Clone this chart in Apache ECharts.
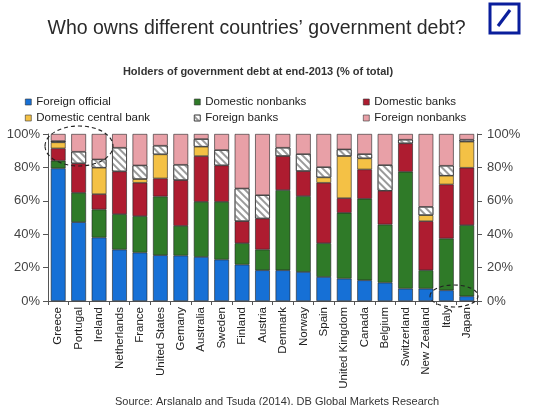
<!DOCTYPE html>
<html><head><meta charset="utf-8">
<script src="https://cdn.jsdelivr.net/npm/echarts@6/dist/echarts.min.js"></script>
<style>html,body{margin:0;padding:0;background:#fff}#c{width:540px;height:405px}</style>
</head><body><div id="c"></div>
<script>
const countries = ['Greece','Portugal','Ireland','Netherlands','France','United States','Gemany','Australia','Sweden','Finland','Austria','Denmark','Norway','Spain','United Kingdom','Canada','Belgium','Switzerland','New Zealand','Italy','Japan'];
const foreignOfficial     = [79.4,47.2,38.0,30.8,29.0,27.4,27.2,26.4,24.8,21.8,18.4,18.4,17.4,14.4,13.4,12.4,11.0,7.4,7.4,6.4,2.8];
const domesticNonbanks    = [4.6,17.6,16.8,21.2,21.8,35.2,17.8,33.0,34.6,12.8,12.4,48.0,45.4,20.2,39.4,48.8,34.8,70.0,11.0,31.0,42.6];
const domesticBanks       = [7.4,17.6,9.2,25.6,20.0,10.8,27.4,27.4,21.8,13.2,18.6,20.4,15.0,36.2,8.8,17.6,20.2,17.0,29.4,32.4,34.4];
const domesticCentralBank = [3.6,0,15.8,0,2.2,14.4,0,5.6,0,0,0,0,0,3.2,25.2,6.6,0,0,3.6,5.2,15.6];
const foreignBanks        = [0.8,7.0,5.0,14.2,8.2,5.2,9.2,4.6,9.2,19.6,14.0,5.0,10.2,6.2,4.0,2.6,15.4,2.2,5.0,6.0,1.2];
const foreignNonbanks     = [4.2,10.6,15.2,8.2,18.8,7.0,18.4,3.0,9.6,32.6,36.6,8.2,12.0,19.8,9.2,12.0,18.6,3.4,43.6,19.0,3.4];
const yTicks = [0,20,40,60,80,100];

const seriesDefs = [
  {name:'Foreign official', data:foreignOfficial, color:'#1670d6'},
  {name:'Domestic nonbanks', data:domesticNonbanks, color:'#2f7a28'},
  {name:'Domestic banks', data:domesticBanks, color:'#ae1c30'},
  {name:'Domestic central bank', data:domesticCentralBank, color:'#f4c145'},
  {name:'Foreign banks', data:foreignBanks, color:'#ffffff', hatch:true},
  {name:'Foreign nonbanks', data:foreignNonbanks, color:'#e8a0a7'}
];

const chart = echarts.init(document.getElementById('c'), null, {renderer:'canvas'});
const FONT = 'Liberation Sans, Arial, sans-serif';
const series = seriesDefs.map(s => {
  const st = {color:s.color, borderColor:'#222', borderWidth:0.6};
  if (s.hatch) st.decal = {symbol:'rect', symbolSize:1, dashArrayX:[1,0], dashArrayY:[1.5,2.5], rotation:Math.PI/4, color:'#9a9a9a'};
  return {
    name:s.name, type:'bar', stack:'total', barWidth:'72%',
    data:s.data.map(v => v === 0 ? '-' : v),
    itemStyle:st, emphasis:{disabled:true}
  };
});
const legendBase = {orient:'vertical', icon:'rect', itemWidth:6, itemHeight:6, itemGap:4,
  textStyle:{fontFamily:FONT, fontSize:11.5, color:'#222'}, selectedMode:false,
  itemStyle:{borderColor:'#333', borderWidth:0.6}};
const yAxisBase = {type:'value', min:0, max:100, interval:20,
  axisLine:{show:true, lineStyle:{color:'#555', width:1}},
  axisTick:{show:true, length:5, lineStyle:{color:'#555'}},
  splitLine:{show:false},
  axisLabel:{formatter:'{value}%', fontFamily:FONT, fontSize:13, color:'#444'}};

chart.setOption({
  animation:false,
  aria:{enabled:false},
  title:[
    {text:'Who owns different countries’ government debt?', left:251.5, top:14, textAlign:'center',
      textStyle:{fontFamily:FONT, fontSize:19.5, fontWeight:'normal', color:'#2a2a2a'}},
    {text:'Holders of government debt at end-2013 (% of total)', left:253, top:61, textAlign:'center',
      textStyle:{fontFamily:FONT, fontSize:11, fontWeight:'bold', color:'#333'}},
    {text:'Source: Arslanalp and Tsuda (2014), DB Global Markets Research', left:272, top:391, textAlign:'center',
      textStyle:{fontFamily:FONT, fontSize:11, fontWeight:'normal', color:'#333'}}
  ],
  legend:[
    Object.assign({}, legendBase, {left:20, top:91, data:['Foreign official','Domestic central bank']}),
    Object.assign({}, legendBase, {left:189, top:91, data:['Domestic nonbanks','Foreign banks']}),
    Object.assign({}, legendBase, {left:358, top:91, data:['Domestic banks','Foreign nonbanks']})
  ],
  grid:{left:48, right:63, top:134, bottom:104, containLabel:false},
  xAxis:{type:'category', data:countries,
    axisLine:{lineStyle:{color:'#555'}},
    axisTick:{show:true, length:4, alignWithLabel:false, lineStyle:{color:'#555'}},
    axisLabel:{rotate:90, interval:0, fontFamily:FONT, fontSize:11.5, color:'#222', margin:6}},
  yAxis:[
    Object.assign({}, yAxisBase, {position:'left', axisLabel:Object.assign({}, yAxisBase.axisLabel, {margin:8})}),
    Object.assign({}, yAxisBase, {position:'right', axisLabel:Object.assign({}, yAxisBase.axisLabel, {margin:10})})
  ],
  series:series,
  graphic:[
    {type:'ellipse', shape:{cx:79, cy:146, rx:34, ry:20}, silent:true, z:100,
      style:{fill:'none', stroke:'#222', lineWidth:1.1, lineDash:[4,3]}},
    {type:'ellipse', shape:{cx:454, cy:296, rx:24, ry:11}, silent:true, z:100,
      style:{fill:'none', stroke:'#222', lineWidth:1.1, lineDash:[4,3]}},
    {type:'rect', shape:{x:490, y:4, width:29, height:29}, silent:true,
      style:{fill:'none', stroke:'#0a1e9c', lineWidth:3}},
    {type:'line', shape:{x1:498, y1:26, x2:510, y2:10}, silent:true,
      style:{stroke:'#0a1e9c', lineWidth:3.2}}
  ]
});
</script></body></html>
